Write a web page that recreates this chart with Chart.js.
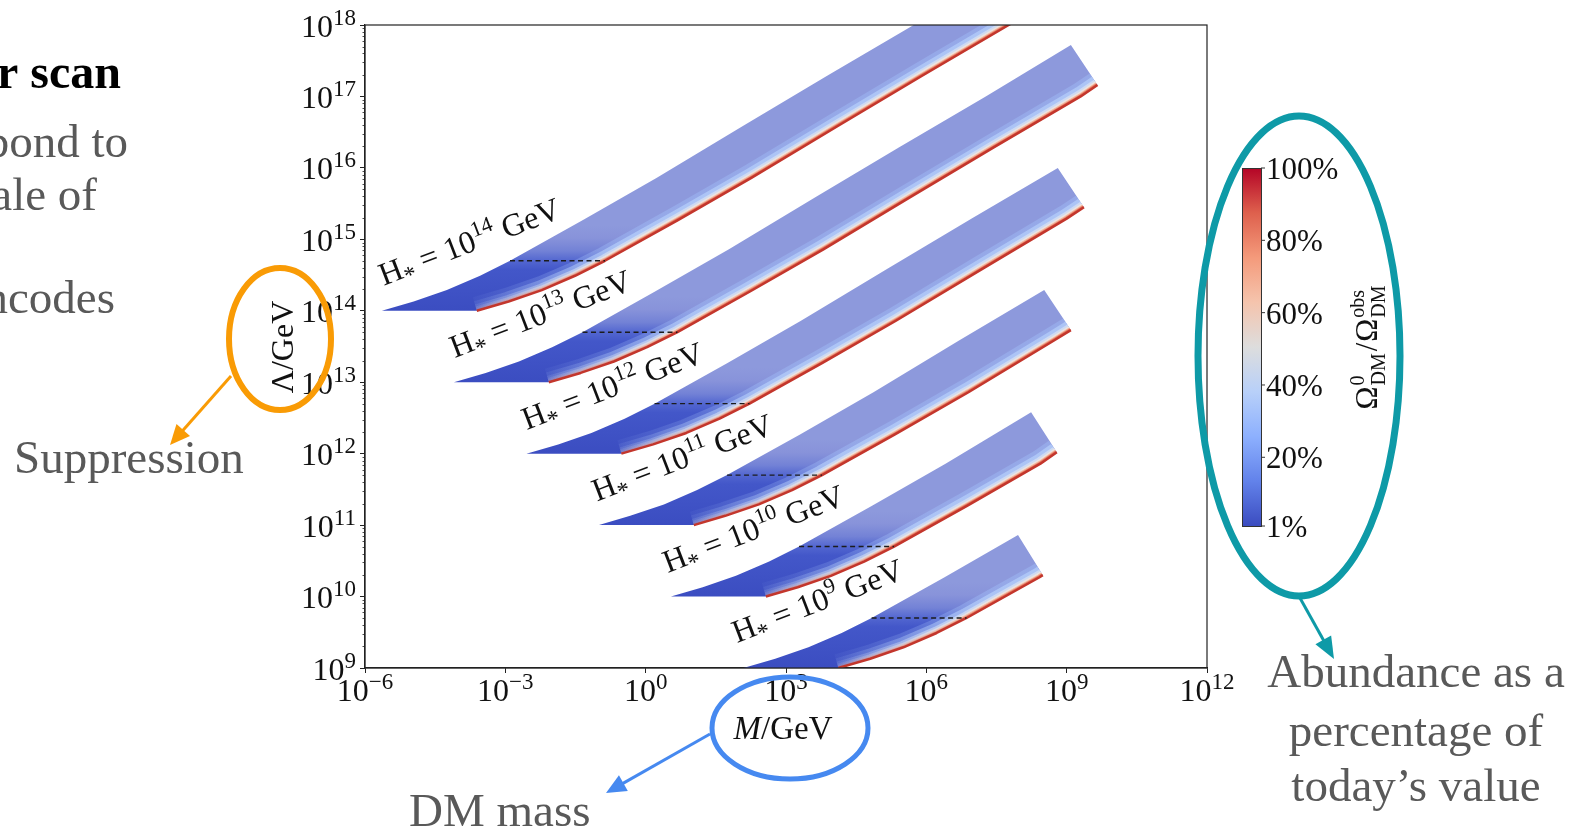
<!DOCTYPE html>
<html>
<head>
<meta charset="utf-8">
<script src="https://cdn.jsdelivr.net/npm/chart.js@4.4.1/dist/chart.umd.min.js"></script>
<style>
  html, body { margin: 0; padding: 0; background: #fff; }
  #wrap { position: relative; width: 1576px; height: 829px; }
</style>
</head>
<body>
<div id="wrap"><canvas id="c"></canvas></div>
<script>
/* parameter scan — Λ vs M bands for several H_*, values are log10 */

const H_EXP = [14, 13, 12, 11, 10, 9];

// upper edge of each band (1% contour), [log10 M, log10 Λ]
const UPPER_14 = [[-5.64,14.00],[-4.96,14.13],[-4.25,14.29],[-3.54,14.49],[-2.90,14.70],[-1.34,15.27],[0.23,15.86],[2.06,16.58],[3.88,17.29],[5.73,18.00],[7.55,18.72]];
const UPPER_13 = [[-4.10,13.00],[-3.42,13.13],[-2.71,13.29],[-2.00,13.49],[-1.35,13.70],[0.20,14.27],[1.78,14.86],[3.60,15.58],[5.42,16.29],[7.27,17.00],[9.09,17.72]];
const UPPER_12 = [[-2.55,12.00],[-1.87,12.13],[-1.16,12.29],[-0.45,12.49],[0.19,12.70],[1.75,13.27],[3.32,13.86],[5.15,14.58],[6.97,15.29],[8.81,16.00]];
const UPPER_11 = [[-1.00,11.00],[-0.33,11.13],[0.39,11.29],[1.10,11.49],[1.74,11.70],[3.30,12.27],[4.87,12.86],[6.69,13.58],[8.52,14.29]];
const UPPER_10 = [[0.54,10.00],[1.22,10.13],[1.93,10.29],[2.64,10.49],[3.28,10.70],[4.84,11.27],[6.41,11.86],[8.24,12.58]];
const UPPER_9  = [[2.09,9.00],[2.77,9.13],[3.48,9.29],[4.19,9.49],[4.83,9.70],[6.39,10.27],[7.96,10.86]];

// lower edge: flat base at Λ = H_*, then the red (100%) edge
const LOWER_14 = [[-5.64,14.00],[-3.61,14.00],[-2.93,14.13],[-2.22,14.29],[-1.51,14.49],[-0.87,14.70],[0.69,15.27],[2.26,15.86],[4.09,16.58],[5.91,17.29],[7.76,18.00],[9.58,18.72]];
const LOWER_13 = [[-4.10,13.00],[-2.07,13.00],[-1.39,13.13],[-0.68,13.29],[0.03,13.49],[0.68,13.70],[2.23,14.27],[3.80,14.86],[5.63,15.58],[7.45,16.29],[9.30,17.00],[9.66,17.16]];
const LOWER_12 = [[-2.55,12.00],[-0.52,12.00],[0.16,12.13],[0.87,12.29],[1.58,12.49],[2.22,12.70],[3.78,13.27],[5.35,13.86],[7.18,14.58],[9.00,15.29],[9.37,15.45]];
const LOWER_11 = [[-1.00,11.00],[1.03,11.00],[1.70,11.13],[2.42,11.29],[3.13,11.49],[3.77,11.70],[5.33,12.27],[6.90,12.86],[8.72,13.58],[9.09,13.73]];
const LOWER_10 = [[0.54,10.00],[2.57,10.00],[3.25,10.13],[3.96,10.29],[4.67,10.49],[5.31,10.70],[6.87,11.27],[8.44,11.86],[8.79,12.02]];
const LOWER_9  = [[2.09,9.00],[4.12,9.00],[4.80,9.13],[5.51,9.29],[6.22,9.49],[6.86,9.70],[8.42,10.27],[8.49,10.30]];

// dashed markers (log10 M from / to, log10 Λ)
const DASH_LEFT  = [-2.90, -1.35, 0.19, 1.74, 3.28, 4.83];
const DASH_RIGHT = [-0.87, 0.68, 2.22, 3.77, 5.31, 6.86];
const DASH_LEVEL = [14.70, 13.70, 12.70, 11.70, 10.70, 9.70];

// where each "H_* = 10^n GeV" label starts
const LABEL_AT = [[-5.60,14.35],[-4.08,13.34],[-2.54,12.33],[-1.04,11.33],[0.47,10.33],[1.95,9.35]];

const X_TICK_EXP = [-6, -3, 0, 3, 6, 9, 12];
const Y_TICK_EXP = [9, 10, 11, 12, 13, 14, 15, 16, 17, 18];
const CB_TICKS = [1, 20, 40, 60, 80, 100];

// matplotlib coolwarm
const COOLWARM = [[0,'#3b4cc0'],[0.125,'#6282ea'],[0.25,'#8db0fe'],[0.375,'#b8d0f9'],[0.5,'#dddddd'],
                  [0.625,'#f5c4ad'],[0.75,'#f49a7b'],[0.875,'#de604d'],[1,'#b40426']];

const UPPERS = [UPPER_14, UPPER_13, UPPER_12, UPPER_11, UPPER_10, UPPER_9];
const LOWERS = [LOWER_14, LOWER_13, LOWER_12, LOWER_11, LOWER_10, LOWER_9];
const BANDS = H_EXP.map((h, i) => ({ h, upper: UPPERS[i], lower: LOWERS[i] }));

const SERIF = '"Liberation Serif", "Times New Roman", serif';
const GREY = '#595959';
const RED = '#c3362c';
const BAND_SHADE = [[0,'#3b4dc1'],[0.48,'#4357c9'],[0.58,'#5266d0'],[0.7,'#7382d6'],[0.85,'#8893da'],[1,'#8d99dc']];
// [width, r, g, b, alpha] — strokes along the red edge, clipped to the band
const GLOW = [[28,160,188,247,0.45],[20,178,203,249,0.8],[13,205,218,243,1],[9,236,227,222,1],[6,243,177,153,1],[4,226,114,90,1]];

const pt = ([m, l]) => ({ x: 10 ** m, y: 10 ** l });

function shade(h) {
  return (c) => {
    const ch = c.chart, y = ch.scales && ch.scales.y;
    if (!ch.chartArea || !y) return '#6f7fd6';
    const g = ch.ctx.createLinearGradient(0, y.getPixelForValue(10 ** h), 0, y.getPixelForValue(10 ** (h + 1.2)));
    BAND_SHADE.forEach(([t, col]) => g.addColorStop(t, col));
    return g;
  };
}

const datasets = [];
BANDS.forEach((b, i) => {
  // band body: upper edge + the cut at the right end, filled down to the lower edge
  datasets.push({
    role: 'fill', band: i,
    data: [...b.upper, b.lower[b.lower.length - 1]].map(pt),
    fill: '+1', backgroundColor: shade(b.h),
    borderWidth: 0, borderColor: 'rgba(0,0,0,0)', pointRadius: 0, tension: 0, order: 4
  });
  // lower boundary (fill target only)
  datasets.push({
    data: b.lower.map(pt), fill: false,
    borderWidth: 0, borderColor: 'rgba(0,0,0,0)', pointRadius: 0, tension: 0, order: 3
  });
});
BANDS.forEach(b => {
  // red 100% edge
  datasets.push({
    data: b.lower.slice(1).map(pt), fill: false,
    borderColor: RED, borderWidth: 2.5, borderJoinStyle: 'round',
    pointRadius: 0, tension: 0, order: 2
  });
});
H_EXP.forEach((h, i) => {
  datasets.push({
    data: [pt([DASH_LEFT[i], DASH_LEVEL[i]]), pt([DASH_RIGHT[i], DASH_LEVEL[i]])],
    borderColor: '#1c1c1c', borderWidth: 1.4, borderDash: [5, 3.5],
    pointRadius: 0, fill: false, order: 1
  });
});

/* ---------- text helpers ---------- */
function measureRuns(ctx, parts) {
  return parts.map(([t, s, dy = 0, it = false]) => {
    ctx.font = `${it ? 'italic ' : ''}${s}px ${SERIF}`;
    return { t, s, dy, it, w: ctx.measureText(t).width };
  });
}
function drawRuns(ctx, x, y, parts, align) {
  const r = measureRuns(ctx, parts);
  const W = r.reduce((a, p) => a + p.w, 0);
  let cx = align === 'center' ? x - W / 2 : align === 'right' ? x - W : x;
  ctx.textAlign = 'left';
  ctx.textBaseline = 'alphabetic';
  r.forEach(p => {
    ctx.font = `${p.it ? 'italic ' : ''}${p.s}px ${SERIF}`;
    ctx.fillText(p.t, cx, y + p.dy);
    cx += p.w;
  });
}
const expStr = e => String(e).replace('-', '\u2212');

function arrow(ctx, x1, y1, x2, y2, color, lw, hl, hw) {
  const a = Math.atan2(y2 - y1, x2 - x1);
  const bx = x2 - Math.cos(a) * hl, by = y2 - Math.sin(a) * hl;
  ctx.strokeStyle = color; ctx.fillStyle = color; ctx.lineWidth = lw;
  ctx.beginPath(); ctx.moveTo(x1, y1); ctx.lineTo(bx + Math.cos(a) * 2, by + Math.sin(a) * 2); ctx.stroke();
  ctx.beginPath();
  ctx.moveTo(x2, y2);
  ctx.lineTo(bx + Math.sin(a) * hw, by - Math.cos(a) * hw);
  ctx.lineTo(bx - Math.sin(a) * hw, by + Math.cos(a) * hw);
  ctx.closePath(); ctx.fill();
}

/* ---------- plugins ---------- */
// light → white → salmon strip along the red edge, kept inside the band,
// fading in from where the red edge leaves the flat base
const bandGlow = {
  id: 'bandGlow',
  afterDatasetDraw(chart, args) {
    const ds = chart.data.datasets[args.index];
    if (ds.role !== 'fill') return;
    const b = BANDS[ds.band];
    const { ctx, chartArea: a, scales: { x, y } } = chart;
    const P = ([m, l]) => [x.getPixelForValue(10 ** m), y.getPixelForValue(10 ** l)];
    ctx.save();
    ctx.beginPath(); ctx.rect(a.left, a.top, a.width, a.height); ctx.clip();
    ctx.beginPath();
    b.upper.map(P).forEach(([px, py], i) => i ? ctx.lineTo(px, py) : ctx.moveTo(px, py));
    b.lower.slice().reverse().map(P).forEach(([px, py]) => ctx.lineTo(px, py));
    ctx.closePath(); ctx.clip();
    const edge = b.lower.slice(1).map(P);
    const [sx, sy] = edge[0];
    ctx.lineJoin = 'round';
    GLOW.forEach(([w, r, g, bl, al]) => {
      const gr = ctx.createLinearGradient(sx, sy, sx + 150, sy - 70);
      gr.addColorStop(0, `rgba(${r},${g},${bl},${al * 0.1})`);
      gr.addColorStop(1, `rgba(${r},${g},${bl},${al})`);
      ctx.beginPath();
      edge.forEach(([px, py], i) => i ? ctx.lineTo(px, py) : ctx.moveTo(px, py));
      ctx.lineWidth = w; ctx.strokeStyle = gr; ctx.stroke();
    });
    ctx.restore();
  }
};

const decor = {
  id: 'decor',
  afterDraw(chart) {
    const { ctx, chartArea: a, scales: { x, y } } = chart;
    ctx.save();

    // frame + minor y ticks
    ctx.strokeStyle = '#222'; ctx.lineWidth = 1.2;
    ctx.strokeRect(a.left, a.top, a.right - a.left, a.bottom - a.top);
    ctx.lineWidth = 0.8;
    for (let e = 9; e < 18; e++) {
      for (let k = 2; k <= 9; k++) {
        const py = Math.round(y.getPixelForValue(k * 10 ** e)) + 0.5;
        ctx.beginPath(); ctx.moveTo(a.left - 2.5, py); ctx.lineTo(a.left, py); ctx.stroke();
      }
    }

    // tick labels
    ctx.fillStyle = '#111';
    Y_TICK_EXP.forEach(e => {
      const py = y.getPixelForValue(10 ** e);
      drawRuns(ctx, 356, py + 11.5, [['10', 32], [expStr(e), 23, -12]], 'right');
    });
    X_TICK_EXP.forEach(e => {
      const px = x.getPixelForValue(10 ** e);
      drawRuns(ctx, px, 701, [['10', 32], [expStr(e), 23, -12]], 'center');
    });

    // axis titles
    drawRuns(ctx, 783, 739, [['M', 33, 0, true], ['/GeV', 33]], 'center');
    ctx.save();
    ctx.translate(293, 347); ctx.rotate(-Math.PI / 2);
    drawRuns(ctx, 0, 0, [['\u039B/GeV', 32]], 'center');
    ctx.restore();

    // band labels
    H_EXP.forEach((h, i) => {
      const px = x.getPixelForValue(10 ** LABEL_AT[i][0]);
      const py = y.getPixelForValue(10 ** LABEL_AT[i][1]);
      ctx.save();
      ctx.translate(px, py); ctx.rotate(-21 * Math.PI / 180);
      drawRuns(ctx, 0, 0, [['H', 32], ['*', 24, 7], [' = 10', 32], [String(h), 22, -13], [' GeV', 32]], 'left');
      ctx.restore();
    });

    // colour bar
    const cb = { x: 1242, y: 168, w: 19, h: 358 };
    const g = ctx.createLinearGradient(0, cb.y + cb.h, 0, cb.y);
    COOLWARM.forEach(([t, c]) => g.addColorStop(t, c));
    ctx.fillStyle = g; ctx.fillRect(cb.x, cb.y, cb.w, cb.h);
    ctx.strokeStyle = '#333'; ctx.lineWidth = 1;
    ctx.strokeRect(cb.x + 0.5, cb.y + 0.5, cb.w, cb.h);
    ctx.fillStyle = '#111';
    CB_TICKS.forEach(v => {
      const ty = cb.y + cb.h - (v - 1) / 99 * cb.h;
      ctx.beginPath(); ctx.moveTo(cb.x + cb.w, ty); ctx.lineTo(cb.x + cb.w + 4, ty); ctx.stroke();
      drawRuns(ctx, 1266, ty + 11, [[v + '%', 31]], 'left');
    });
    // Ω^0_DM / Ω^obs_DM (rotated)
    ctx.save();
    ctx.translate(1377, 348); ctx.rotate(-Math.PI / 2);
    ctx.font = `31px ${SERIF}`; const wO = ctx.measureText('\u03A9').width; const wS = ctx.measureText('/').width;
    ctx.font = `20px ${SERIF}`; const wDM = ctx.measureText('DM').width; const wObs = ctx.measureText('obs').width; const w0 = ctx.measureText('0').width;
    const stack1 = Math.max(wDM, w0) + 2, stack2 = Math.max(wDM, wObs) + 2;
    let cx = -(wO * 2 + wS + stack1 + stack2) / 2;
    ctx.textAlign = 'left'; ctx.textBaseline = 'alphabetic';
    const put = (t, s, dx, dy) => { ctx.font = `${s}px ${SERIF}`; ctx.fillText(t, cx + dx, dy); };
    put('\u03A9', 31, 0, 0); cx += wO + 1;
    put('0', 20, 0, -13); put('DM', 20, 0, 8); cx += stack1;
    put('/', 31, 0, 0); cx += wS + 1;
    put('\u03A9', 31, 0, 0); cx += wO + 1;
    put('obs', 20, 0, -13); put('DM', 20, 0, 8);
    ctx.restore();

    // slide text
    ctx.textBaseline = 'alphabetic';
    ctx.fillStyle = '#000'; ctx.font = `bold 48px ${SERIF}`; ctx.textAlign = 'right';
    ctx.fillText('r scan', 121, 88);
    ctx.fillStyle = GREY; ctx.font = `47px ${SERIF}`;
    ctx.fillText('pond to', 128, 157);
    ctx.fillText('ale of', 97, 210);
    ctx.fillText('ncodes', 115, 313);
    ctx.textAlign = 'left';
    ctx.fillText('Suppression', 14, 473);
    ctx.fillText('DM mass', 409, 826);
    ctx.textAlign = 'center';
    ctx.fillText('Abundance as a', 1416, 687);
    ctx.fillText('percentage of', 1416, 746);
    ctx.fillText('today\u2019s value', 1416, 801);

    // ellipses and arrows
    ctx.lineWidth = 6; ctx.strokeStyle = '#f99b05';
    ctx.beginPath(); ctx.ellipse(280, 339, 51, 71, 0, 0, Math.PI * 2); ctx.stroke();
    arrow(ctx, 231, 376, 170, 445, '#f99b05', 3, 20, 9);

    ctx.lineWidth = 5; ctx.strokeStyle = '#4689f0';
    ctx.beginPath(); ctx.ellipse(790, 728, 78, 51, 0, 0, Math.PI * 2); ctx.stroke();
    arrow(ctx, 710, 734, 606, 793, '#4689f0', 3, 20, 9);

    ctx.lineWidth = 7; ctx.strokeStyle = '#0e9aa7';
    ctx.beginPath(); ctx.ellipse(1299, 356, 101, 240, 0, 0, Math.PI * 2); ctx.stroke();
    arrow(ctx, 1300, 598, 1334, 659, '#0e9aa7', 3, 22, 9);

    ctx.restore();
  }
};

new Chart(document.getElementById('c'), {
  type: 'line',
  data: { datasets },
  options: {
    responsive: true, maintainAspectRatio: false,
    animation: false, events: [],
    layout: { padding: { left: 0, top: 25, right: 369, bottom: 0 } },
    plugins: { legend: { display: false }, tooltip: { enabled: false } },
    scales: {
      x: {
        type: 'logarithmic', min: 1e-6, max: 1e12,
        afterBuildTicks: s => { s.ticks = X_TICK_EXP.map(e => ({ value: 10 ** e })); },
        afterFit: s => { s.height = 161; },
        ticks: { display: false },
        grid: { drawOnChartArea: false, drawTicks: true, tickLength: 5, tickColor: '#222', tickWidth: 1 },
        border: { color: '#222', width: 1.2 }
      },
      y: {
        type: 'logarithmic', min: 1e9, max: 1e18,
        afterBuildTicks: s => { s.ticks = Y_TICK_EXP.map(e => ({ value: 10 ** e })); },
        afterFit: s => { s.width = 365; },
        ticks: { display: false },
        grid: { drawOnChartArea: false, drawTicks: true, tickLength: 5, tickColor: '#222', tickWidth: 1 },
        border: { color: '#222', width: 1.2 }
      }
    }
  },
  plugins: [bandGlow, decor]
});
</script>
</body>
</html>
